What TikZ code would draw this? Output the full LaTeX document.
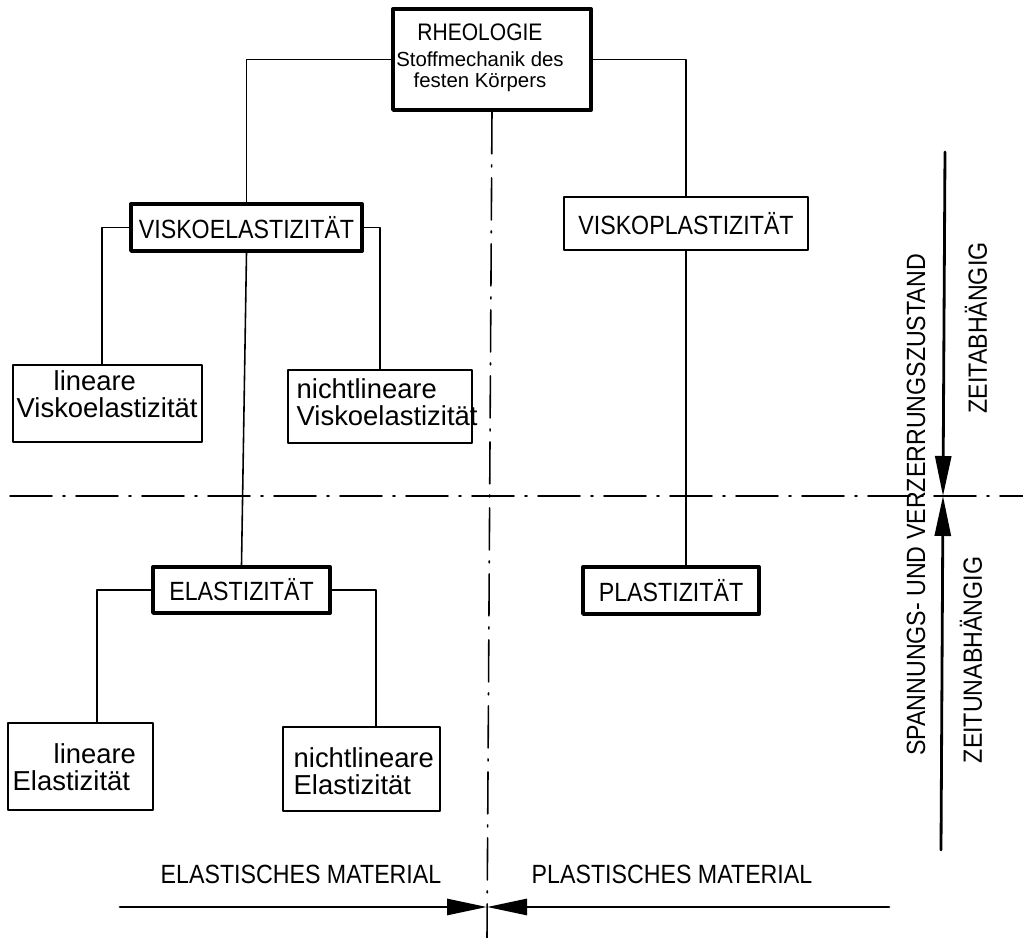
\documentclass[tikz,border=0pt]{standalone}
\usepackage{fontspec}
\setmainfont{Liberation Sans}
\newfontfamily\narrowfont[FakeStretch=0.88]{Liberation Sans}
\usetikzlibrary{arrows.meta}

\tikzset{
  hauptbox/.style={draw, line width=1.1pt, inner sep=0pt, font=\narrowfont\fontsize{7.5}{9}\selectfont},
  unterbox/.style={draw, line width=0.6pt, inner sep=0pt},
  boxtext/.style={inner sep=0pt, align=left, anchor=north west, font=\fontsize{7.8}{7.7}\selectfont},
  verbindung/.style={line width=0.45pt},
  mittellinie/.style={line width=0.45pt, dash pattern=on 4.2mm off 1.1mm on 0.2mm off 1.1mm},
  pfeil/.style={line width=0.8pt, -{Triangle[length=4mm,width=1.6mm]}},
  beschriftung/.style={inner sep=0pt, font=\narrowfont\fontsize{7.5}{9}\selectfont}
}

\begin{document}
\begin{tikzpicture}[x=0.1mm, y=-0.1mm, line join=round, line cap=round]
	\def\xm{487} \def\ym{496} % Mittellinien
	\useasboundingbox (0,0) rectangle (1023,938);
	% Kaesten
	\node[hauptbox, minimum width=19.8mm, minimum height=10.1mm] (rheo) at (492,59.5) {};
	\node[align=center, inner sep=0pt, font=\fontsize{5.8}{6}\selectfont] (rheotext) at (480,58)
		{{\narrowfont\fontsize{6.8}{7}\selectfont RHEOLOGIE}\\[0.5mm] Stoffmechanik des\\ festen Körpers};
	\node[hauptbox, minimum width=23.1mm, minimum height=4.7mm] (vke) at (246.5,227.5) {VISKOELASTIZITÄT};
	\node[hauptbox, line width=0.8pt, minimum width=24.4mm, minimum height=5.3mm] (vpl) at (686,223.5) {VISKOPLASTIZITÄT};
	\node[unterbox, minimum width=18.9mm, minimum height=7.7mm] (lvke) at (107.5,403.5) {};
	\node[boxtext] (lvketext) at (16,370) {\hspace*{3.7mm}lineare\\Viskoelastizität};
	\node[unterbox, minimum width=18.4mm, minimum height=7.3mm] (nlvke) at (380,406.5) {};
	\node[boxtext] (nlvketext) at (296,378) {nichtlineare\\Viskoelastizität};
	\node[hauptbox, minimum width=17.7mm, minimum height=4.6mm] (el) at (241.5,590) {ELASTIZITÄT};
	\node[hauptbox, minimum width=17.6mm, minimum height=4.7mm] (pl) at (671,590.5) {PLASTIZITÄT};
	\node[unterbox, minimum width=14.5mm, minimum height=8.7mm] (lel) at (80.5,766.5) {};
	\node[boxtext] (leltext) at (12,743) {\hspace*{4.1mm}lineare\\Elastizität};
	\node[unterbox, minimum width=15.7mm, minimum height=8.4mm] (nlel) at (361.5,769) {};
	\node[boxtext] (nleltext) at (293,747) {nichtlineare\\Elastizität};
	% Verbindungen
	\draw[verbindung] (rheo.west) -| (vke.north);
	\draw[verbindung] (rheo.east) -| (vpl.north);
	\draw[verbindung] (vke.west) -| ([xshift=-0.55mm]lvke.north);
	\draw[verbindung] (vke.east) -| (nlvke.north);
	\draw[verbindung] (vke.south) -- (el.north);
	\draw[verbindung] (el.west) -| ([xshift=1.65mm]lel.north);
	\draw[verbindung] (el.east) -| ([xshift=1.45mm]nlel.north);
	\draw[verbindung] (vpl.south) -- (vpl.south |- pl.north);
	% Mittellinien
	\coordinate (mu) at (\xm,938);
	\coordinate (ml) at (10,\ym);
	\coordinate (mr) at (1023,\ym);
	\draw[mittellinie] (rheo.south) -- (mu);
	\draw[mittellinie] (ml) -- (mr);
	% Pfeile
	\coordinate (ku) at (\xm,907);
	\coordinate (el0) at (120,907);
	\coordinate (pl0) at (889,907);
	\draw[pfeil] (el0) -- (ku);
	\draw[pfeil] (pl0) -- (ku);
	\coordinate (kr) at (943,\ym);
	\coordinate (zo) at (945,152);
	\coordinate (zu) at (941,850);
	\draw[pfeil] (zo) -- (kr);
	\draw[pfeil] (zu) -- (kr);
	% Beschriftung
	\node[beschriftung] (elmat) at (301,874) {ELASTISCHES MATERIAL};
	\node[beschriftung] (plmat) at (672,874) {PLASTISCHES MATERIAL};
	\node[beschriftung, rotate=90] (zustand) at (916,505) {SPANNUNGS- UND VERZERRUNGSZUSTAND};
	\node[beschriftung, rotate=90] (zeitab) at (976,328) {ZEITABHÄNGIG};
	\node[beschriftung, rotate=90] (zeitunab) at (971,660) {ZEITUNABHÄNGIG};
\end{tikzpicture}
\end{document}
